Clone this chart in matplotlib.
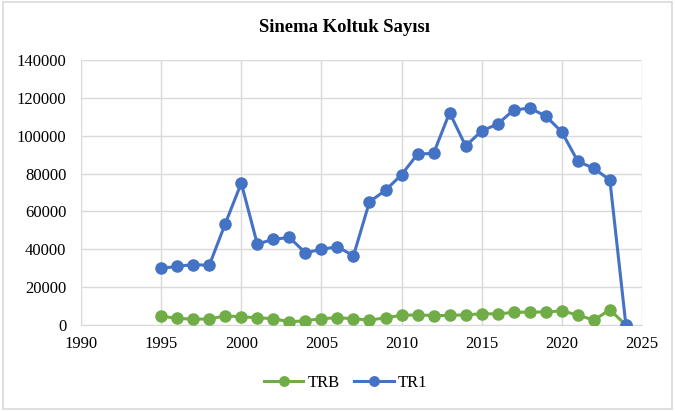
import matplotlib
matplotlib.use("Agg")
import matplotlib.pyplot as plt
from matplotlib.patches import Rectangle

years = list(range(1995, 2025))
trb = [4750, 3500, 3200, 3200, 4900, 4400, 3900, 3400, 1750, 2300,
       3400, 3900, 3400, 2600, 3900, 5100, 5450, 5000, 5100, 5450,
       5950, 5950, 6700, 6900, 6900, 7550, 5300, 2650, 8100, 0]
tr1 = [30000, 31000, 32000, 31500, 53500, 75000, 42800, 45300, 46300, 38200,
       40000, 41400, 36600, 65100, 71200, 79400, 90300, 90700, 112200, 94600,
       102500, 106200, 113600, 114600, 110400, 102000, 86500, 82800, 76600, 0]
x_ticks = [1990, 1995, 2000, 2005, 2010, 2015, 2020, 2025]
y_ticks = [0, 20000, 40000, 60000, 80000, 100000, 120000, 140000]

plt.rcParams['font.family'] = ['Liberation Serif', 'DejaVu Serif']

fig = plt.figure(figsize=(6.75, 4.11), dpi=100)
ax = fig.add_axes([0.12, 0.209, 0.831, 0.645])

ax.plot(years, trb, color='#70AD47', lw=2.2, marker='o', ms=8, label='TRB', zorder=3)
ax.plot(years, tr1, color='#4472C4', lw=2.2, marker='o', ms=8, label='TR1', zorder=4)

ax.set_xlim(1990, 2025)
ax.set_ylim(0, 140000)
ax.set_xticks(x_ticks)
ax.set_yticks(y_ticks)
ax.tick_params(length=0, labelsize=12, colors='black')
ax.tick_params(axis='y', pad=10.5)
ax.tick_params(axis='x', pad=8)
ax.grid(True, color='#D9D9D9', lw=1)
ax.set_axisbelow(True)
for s in ['top', 'right', 'left']:
    ax.spines[s].set_visible(False)
ax.spines['bottom'].set_color('#D9D9D9')

fig.text(0.51, 0.934, 'Sinema Koltuk Sayısı', ha='center', va='center',
         fontsize=13.4, fontweight='bold')

ax.legend(loc='center', bbox_to_anchor=(0.512, 0.068), bbox_transform=fig.transFigure,
          ncol=2, frameon=False, fontsize=12, handlelength=2.35, columnspacing=0.9,
          handletextpad=0.25, borderpad=0, markerscale=0.85)

fig.patches.append(Rectangle((0.004, 0.006), 0.992, 0.988, transform=fig.transFigure,
                             fill=False, edgecolor='#D9D9D9', lw=1.2))

fig.savefig('out.png', dpi=100, facecolor='white')
